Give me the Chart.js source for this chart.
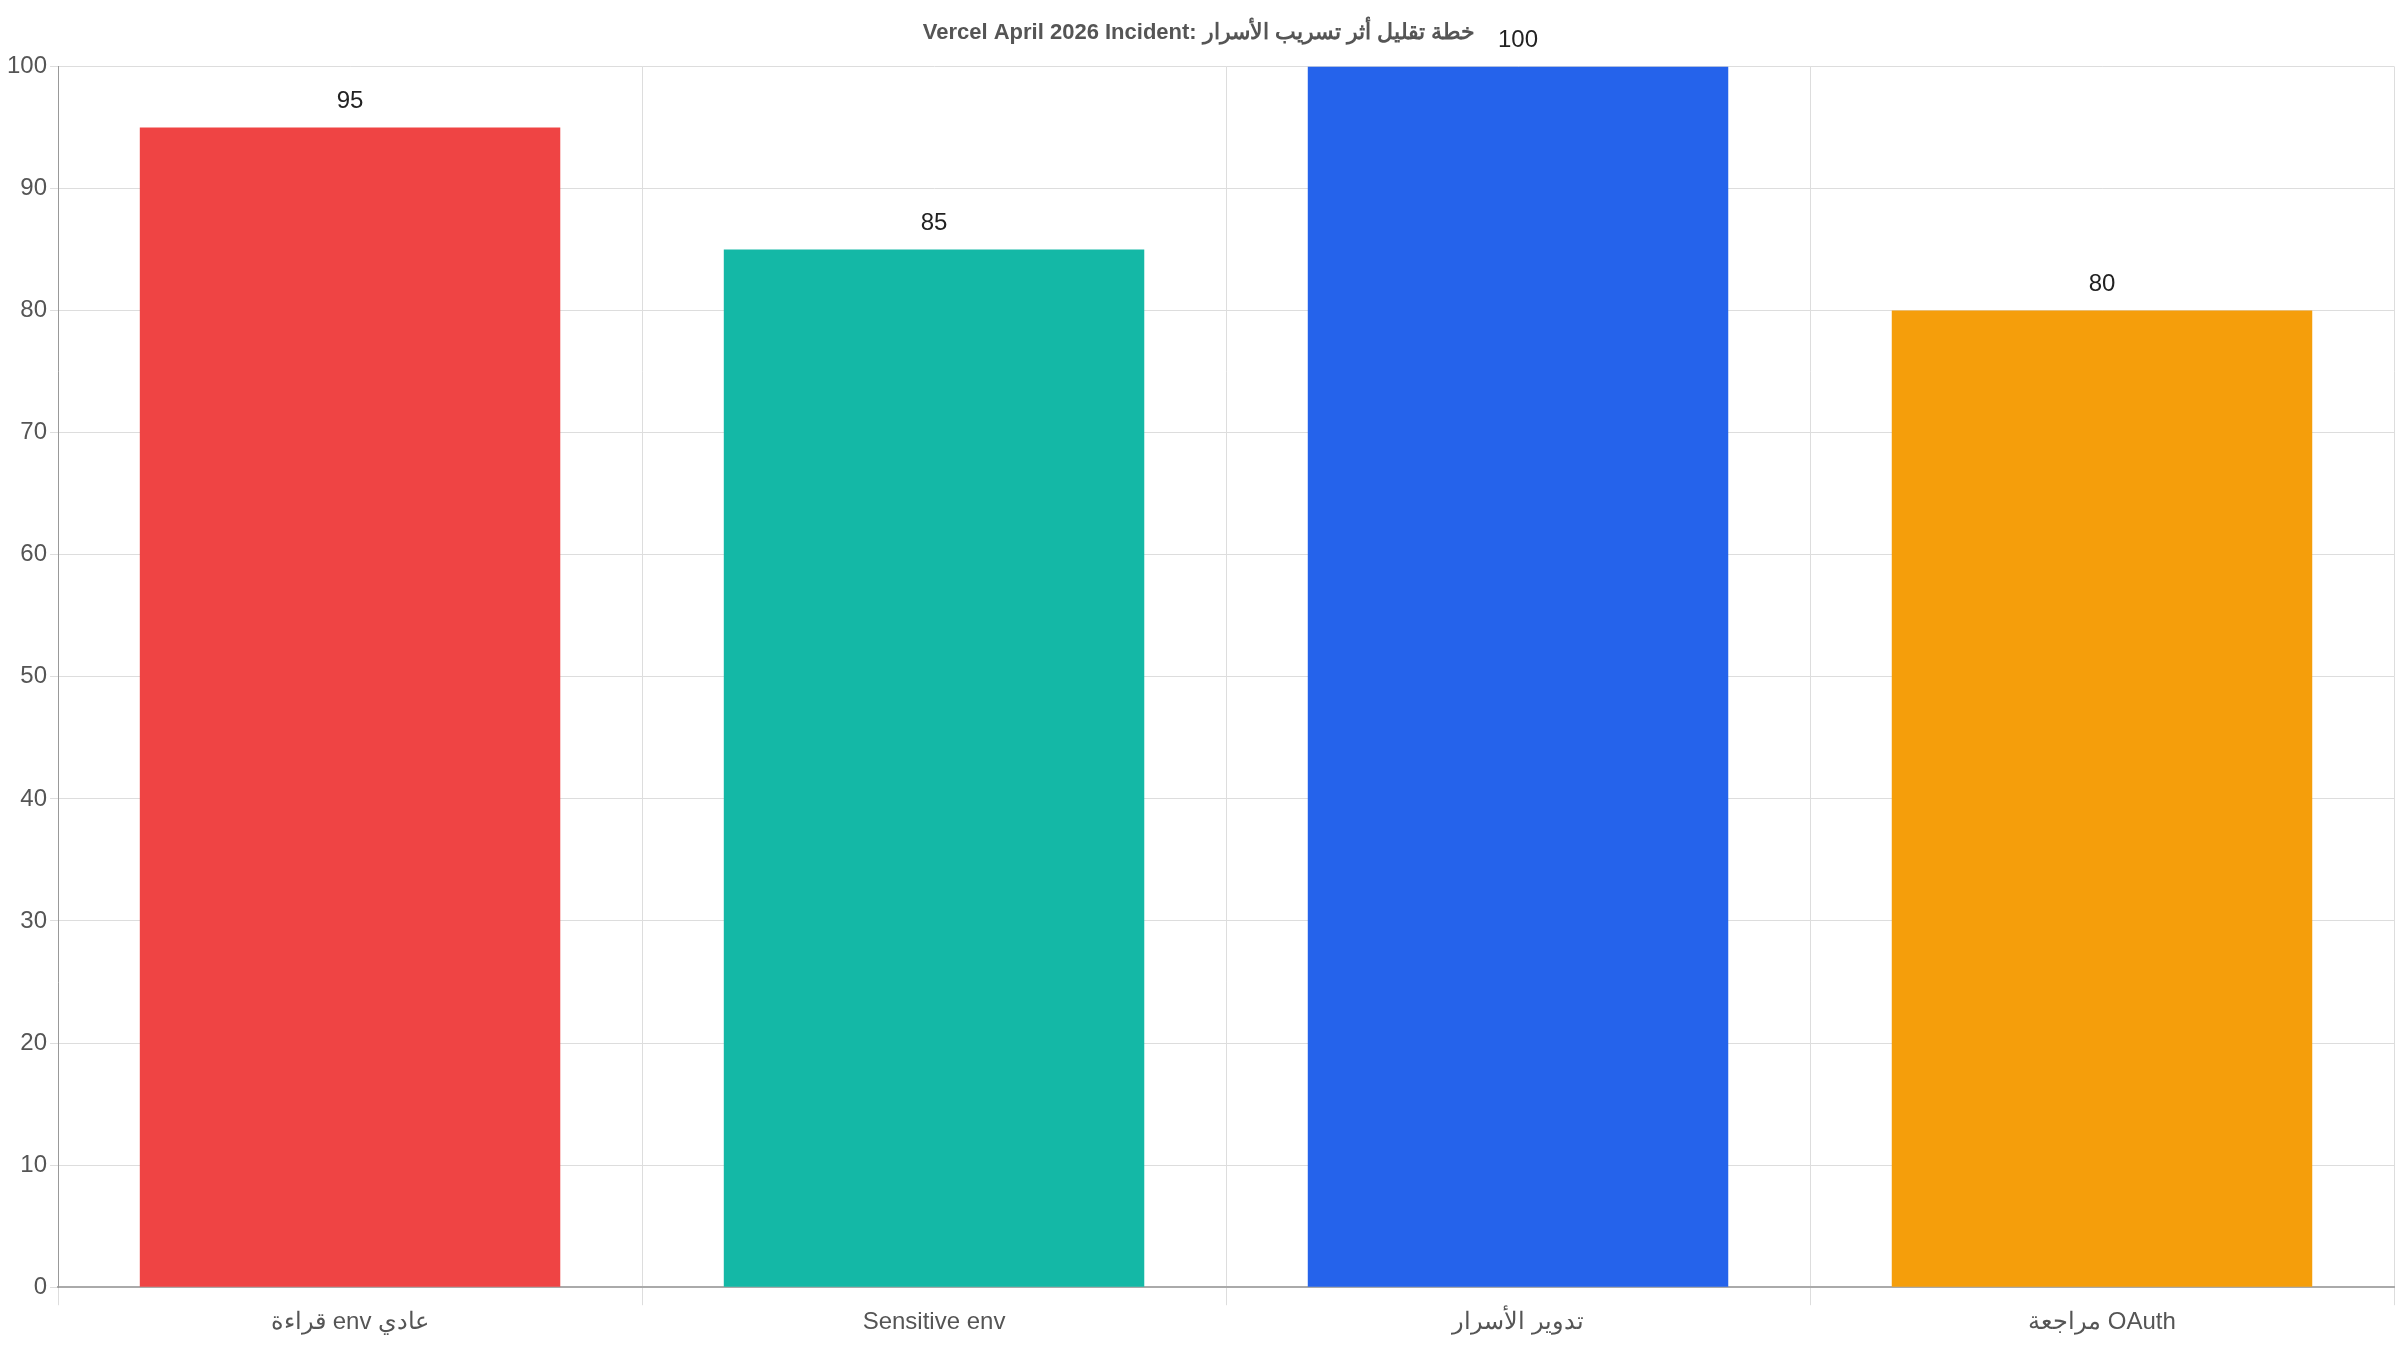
<!DOCTYPE html>
<html><head><meta charset="utf-8">
<script src="https://cdn.jsdelivr.net/npm/chart.js@4"></script>
<style>html,body{margin:0;padding:0;background:#fff}#w{width:2400px;height:1350px}</style>
</head><body><div id="w"><canvas id="c"></canvas></div>
<script>
const categories = ["قراءة env عادي", "Sensitive env", "تدوير الأسرار", "مراجعة OAuth"];
const values = [95, 85, 100, 80];
const colors = ["#ef4444", "#14b8a6", "#2563eb", "#f59e0b"];
const titleText = "Vercel April 2026 Incident: خطة تقليل أثر تسريب الأسرار";

const valueLabels = {
  id: 'valueLabels',
  afterDatasetsDraw(chart) {
    const ctx = chart.ctx;
    const meta = chart.getDatasetMeta(0);
    ctx.save();
    ctx.font = '24px "Liberation Sans", Arial, sans-serif';
    ctx.fillStyle = '#222';
    ctx.textAlign = 'center';
    ctx.textBaseline = 'bottom';
    meta.data.forEach((bar, i) => {
      ctx.fillText(String(values[i]), bar.x, bar.y - 14);
    });
    ctx.restore();
  }
};

new Chart(document.getElementById('c'), {
  type: 'bar',
  data: { labels: categories, datasets: [{ data: values, backgroundColor: colors, categoryPercentage: 0.72, barPercentage: 1 }] },
  options: {
    responsive: true, maintainAspectRatio: false, animation: false,
    layout: { padding: { top: 4, right: 6, left: 4, bottom: 10 } },
    plugins: {
      legend: { display: false },
      tooltip: { enabled: false },
      title: { display: true, text: titleText, color: '#555', font: { family: '"Liberation Sans", Arial, sans-serif', size: 22, weight: 'bold' }, padding: { top: 16, bottom: 20 } }
    },
    scales: {
      x: { grid: { color: '#ddd', offset: true, tickLength: 18 }, border: { color: '#aaa', width: 2 },
           ticks: { color: '#555', font: { family: '"Liberation Sans", Arial, sans-serif', size: 24 } } },
      y: { min: 0, max: 100, grid: { color: '#ddd' }, border: { color: '#999' },
           ticks: { stepSize: 10, color: '#555', font: { family: '"Liberation Sans", Arial, sans-serif', size: 24 } } }
    }
  },
  plugins: [valueLabels]
});
</script></body></html>
